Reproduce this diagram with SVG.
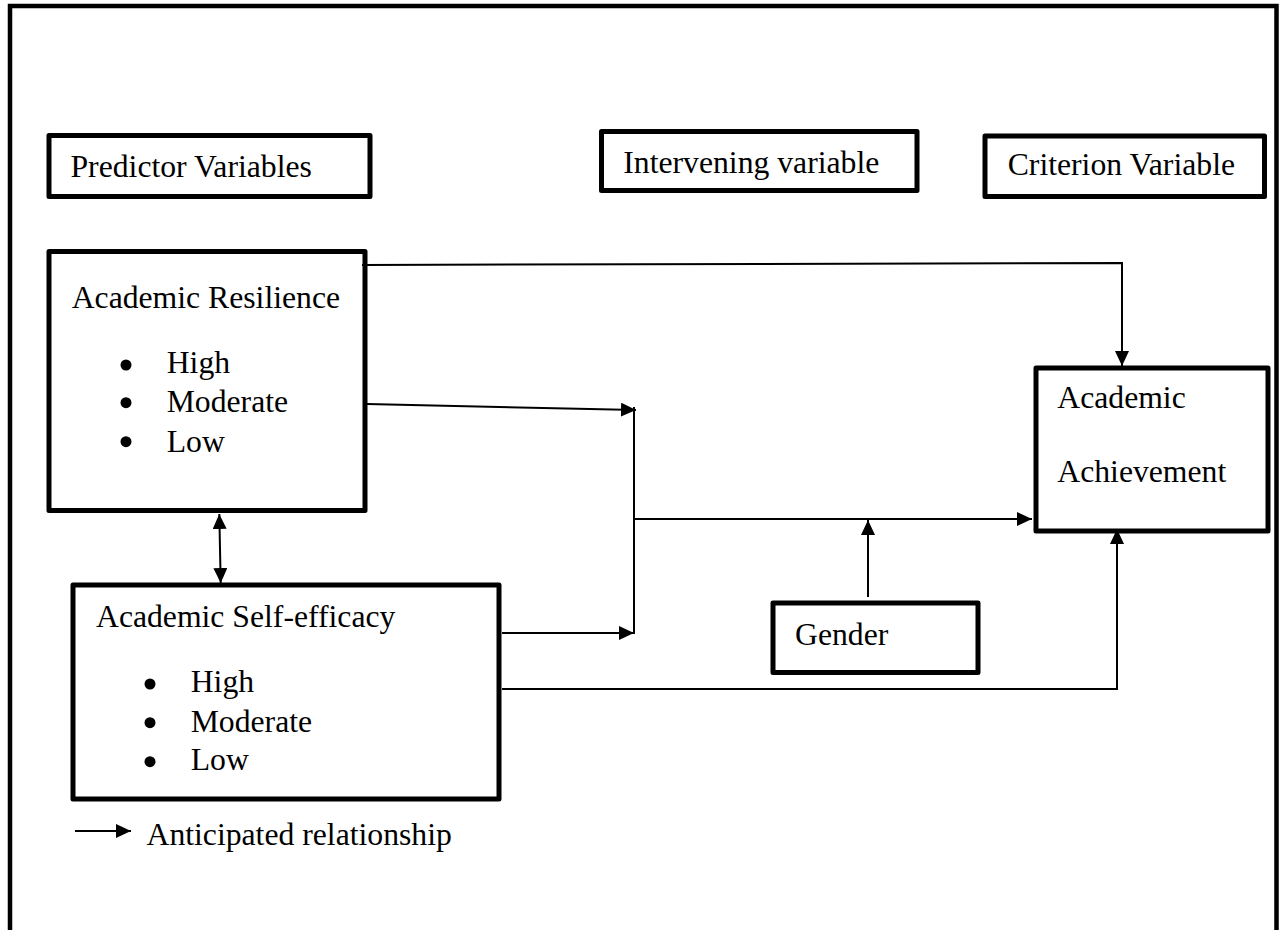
<svg xmlns="http://www.w3.org/2000/svg" width="1284" height="930" viewBox="0 0 1284 930">
<style>
.box{fill:#fff;stroke:#000;stroke-width:5;stroke-linejoin:round}
.frame{fill:#fff;stroke:#000;stroke-width:4.5}
.t{font-family:"Liberation Serif","Times New Roman",serif;font-size:31.7px;fill:#000}
.ln{fill:none;stroke:#000;stroke-width:2}
.dot{fill:#000}
</style>
<defs>
<marker id="ah" viewBox="0 0 15 14" refX="15" refY="7" markerWidth="15" markerHeight="14" markerUnits="userSpaceOnUse" orient="auto-start-reverse">
<path d="M0,0 L15,7 L0,14 z" fill="#000"/>
</marker>
</defs>
<rect class="frame" x="10" y="6" width="1266.5" height="930"/>

<g id="predictor">
<rect class="box" x="49" y="135.5" width="321" height="61"/>
<text class="t" x="70.5" y="177">Predictor Variables</text>
</g>
<g id="intervening">
<rect class="box" x="601.5" y="131.5" width="315.5" height="59"/>
<text class="t" x="623.3" y="173.3">Intervening variable</text>
</g>
<g id="criterion">
<rect class="box" x="985" y="136" width="279.5" height="60.5"/>
<text class="t" x="1007.7" y="175">Criterion Variable</text>
</g>
<g id="resilience">
<rect class="box" x="49" y="251.5" width="316" height="259"/>
<text class="t" x="71.7" y="308.3">Academic Resilience</text>
<circle class="dot" cx="126" cy="365" r="5.5"/>
<circle class="dot" cx="126" cy="402.7" r="5.5"/>
<circle class="dot" cx="126" cy="441.7" r="5.5"/>
<text class="t" x="166.7" y="373">High</text>
<text class="t" x="166.7" y="411.7">Moderate</text>
<text class="t" x="166.7" y="451.7">Low</text>
</g>
<g id="selfefficacy">
<rect class="box" x="73" y="585" width="426" height="214"/>
<text class="t" x="96" y="627">Academic Self-efficacy</text>
<circle class="dot" cx="150" cy="684" r="5.5"/>
<circle class="dot" cx="150" cy="722.7" r="5.5"/>
<circle class="dot" cx="150" cy="761.7" r="5.5"/>
<text class="t" x="190.7" y="691.7">High</text>
<text class="t" x="190.7" y="731.7">Moderate</text>
<text class="t" x="190.7" y="770">Low</text>
</g>
<g id="achievement">
<rect class="box" x="1036" y="368" width="232" height="163"/>
<text class="t" x="1057.3" y="408.3">Academic</text>
<text class="t" x="1057.3" y="482.3">Achievement</text>
</g>
<g id="gender">
<rect class="box" x="773" y="603" width="205" height="69.5"/>
<text class="t" x="795" y="645">Gender</text>
</g>
<g id="legend">
<path class="ln" d="M75,831 L131,831" marker-end="url(#ah)"/>
<text class="t" x="146.5" y="845">Anticipated relationship</text>
</g>

<g id="connectors">
<path class="ln" d="M362,265 L1122,263 L1122,366" marker-end="url(#ah)"/>
<path class="ln" d="M367,404 L636,410" marker-end="url(#ah)"/>
<path class="ln" d="M634,407 L634,634"/>
<path class="ln" d="M502,633 L634,633" marker-end="url(#ah)"/>
<path class="ln" d="M634,519 L1032,519" marker-end="url(#ah)"/>
<path class="ln" d="M868,597 L868,520" marker-end="url(#ah)"/>
<path class="ln" d="M502,689 L1117,689 L1117,529" marker-end="url(#ah)"/>
<path class="ln" d="M219.3,514 L220.7,583" marker-start="url(#ah)" marker-end="url(#ah)"/>
</g>
</svg>
